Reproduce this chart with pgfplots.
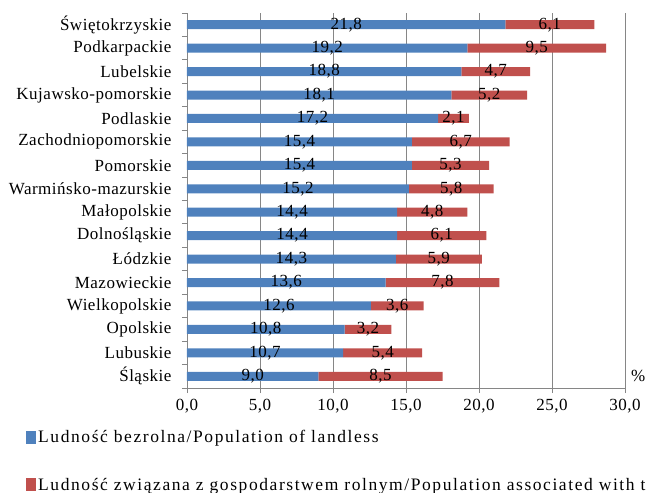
\documentclass[border=0pt]{standalone}
\usepackage{pgfplots}
\pgfplotsset{compat=1.18}
\usepackage{pgfplotstable}
\usepackage{fontspec}
\setmainfont[LetterSpace=3]{Liberation Serif}
\newfontfamily\legfont[LetterSpace=9]{Liberation Serif}
\definecolor{barblue}{RGB}{79,129,189}
\definecolor{barred}{RGB}{192,80,77}
\definecolor{gridgray}{RGB}{134,134,134}

\pgfplotstableread{
idx a b
15 21.8 6.1
14 19.2 9.5
13 18.8 4.7
12 18.1 5.2
11 17.2 2.1
10 15.4 6.7
9 15.4 5.3
8 15.2 5.8
7 14.4 4.8
6 14.4 6.1
5 14.3 5.9
4 13.6 7.8
3 12.6 3.6
2 10.8 3.2
1 10.7 5.4
0 9.0 8.5
}\datatable

\begin{document}
\begin{tikzpicture}
\begin{axis}[
  xbar stacked,
  bar width=9pt,
  width=438pt, height=375pt, scale only axis,
  xmin=0, xmax=30, ymin=-0.5, ymax=15.5,
  axis x line*=bottom, axis y line*=left,
  axis line style={draw=gridgray, line width=0.9pt, -},
  tick align=outside,
  major tick length=5pt,
  tick style={draw=gridgray, line width=0.9pt},
  xmajorgrids,
  grid style={draw=gridgray, line width=0.9pt},
  /pgf/number format/assume math mode=true,
  xtick={0,5,...,30},
  xticklabel={\pgfmathprintnumber[fixed,fixed zerofill,precision=1,use comma]{\tick}},
  xticklabel style={yshift=-3pt, font=\fontsize{17}{19}\selectfont},
  ytick={-0.5,0.5,...,15.5},
  yticklabels={Śląskie,Lubuskie,Opolskie,Wielkopolskie,Mazowieckie,Łódzkie,Dolnośląskie,Małopolskie,Warmińsko-mazurskie,Pomorskie,Zachodniopomorskie,Podlaskie,Kujawsko-pomorskie,Lubelskie,Podkarpackie,Świętokrzyskie,{}},
  yticklabel style={yshift=11.72pt, xshift=-7pt, font=\fontsize{17}{19}\selectfont},
  legend style={at={(axis description cs:0,0)}, anchor=north west,
    xshift=-161pt, yshift=-40pt, draw=none, fill=none, inner sep=0pt,
    row sep=30pt, font=\legfont\fontsize{17.5}{19}\selectfont},
  legend cell align=left,
  clip=false,
]
\addplot[fill=barblue, draw=none,
  legend image code/.code={\fill[barblue] (0pt,-6.5pt) rectangle (10pt,6.5pt);},
  visualization depends on={rawx \as \rawv},
  nodes near coords={\pgfmathprintnumber[fixed,fixed zerofill,precision=1,use comma]{\rawv}},
  every node near coord/.append style={anchor=center, text=black, font=\fontsize{17}{19}\selectfont},
] table[x=a, y=idx] {\datatable};
\addlegendentry{Ludność bezrolna/Population of landless}
\addplot[fill=barred, draw=none,
  legend image code/.code={\fill[barred] (0pt,-6.5pt) rectangle (10pt,6.5pt);},
  visualization depends on={rawx \as \rawv},
  nodes near coords={\pgfmathprintnumber[fixed,fixed zerofill,precision=1,use comma]{\rawv}},
  every node near coord/.append style={anchor=center, text=black, font=\fontsize{17}{19}\selectfont},
] table[x=b, y=idx] {\datatable};
\addlegendentry{Ludność związana z gospodarstwem rolnym/Population associated with the farm}
\node[anchor=west, inner sep=0pt, xshift=6pt, font=\fontsize{17}{19}\selectfont] at (axis cs:30,0) {\%};
\coordinate (O) at (axis cs:0,-0.5);
\end{axis}
\pgfresetboundingbox
\path[use as bounding box] ([shift={(-187pt,-104pt)}]O) rectangle ([shift={(460pt,388pt)}]O);
\end{tikzpicture}
\end{document}
